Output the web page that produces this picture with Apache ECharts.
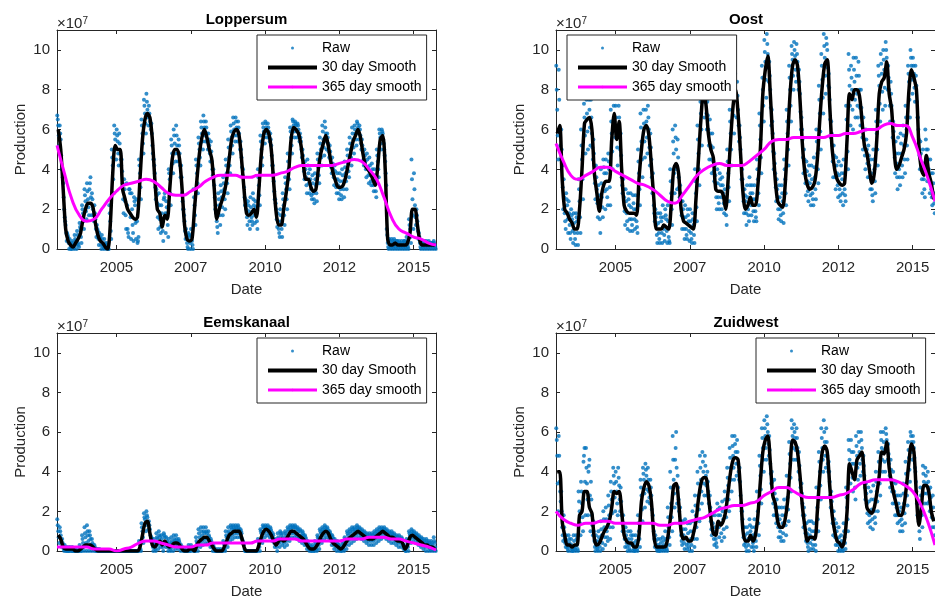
<!DOCTYPE html>
<html>
<head>
<meta charset="utf-8">
<script src="https://cdn.jsdelivr.net/npm/echarts@6/dist/echarts.min.js"></script>
<style>
  html, body { margin: 0; padding: 0; background: #fff; }
  #main { width: 935px; height: 603px; }
</style>
</head>
<body>
<div id="main"></div>
<script>
// all production values in units of 1e6, one value per month starting Jan 2003
// (raw A..E = five readings of the daily cloud per month), 365-day smooth one value per quarter

const loppersumSmooth30 = [
  60,50,30,10,4,2,1,3,5,8,15,20,
  23,23,21,13,7,4,3,1,0,12,38,52,
  50,50,30,25,20,18,16,15,16,35,55,65,
  68,66,55,35,20,18,11,17,15,30,45,50,
  50,45,30,12,5,4,5,20,35,48,56,60,
  56,50,45,30,15,20,24,28,35,45,55,59,
  60,57,45,30,18,17,18,20,16,30,48,58,
  60,58,50,33,18,12,12,20,28,38,55,61,
  60,58,52,42,35,35,31,29,30,40,48,53,
  57,52,44,38,34,31,31,32,36,42,48,54,
  57,60,56,48,42,40,38,35,32,42,55,57,
  40,5,2,2,3,2,2,2,2,3,8,20,
  20,12,4,2,2,2,2,2,2
];
const loppersumRawA = [
  67,62,40,16,8,5,4,7,9,13,22,30,
  33,30,28,22,12,8,7,5,3,22,50,62,
  60,58,45,35,33,30,28,26,25,45,65,75,
  78,72,63,45,30,28,22,25,24,40,55,60,
  62,55,42,20,10,8,10,30,45,56,64,67,
  64,58,54,40,22,28,32,36,45,55,62,66,
  66,64,54,40,25,24,26,28,24,40,57,63,
  64,63,58,42,25,18,20,28,36,48,61,65,
  64,63,58,50,44,45,40,37,38,48,56,62,
  64,58,52,46,42,38,38,40,44,50,56,61,
  62,64,62,55,50,48,46,43,40,50,60,60,
  50,10,5,5,5,4,4,4,4,6,15,45,
  38,20,8,4,4,4,4,3,4
];
const loppersumRawB = [
  52,40,20,4,0,0,0,0,1,3,10,15,
  17,17,14,6,2,0,0,0,0,5,28,45,
  42,42,18,10,6,5,4,5,6,25,48,58,
  62,60,45,25,10,8,4,8,6,22,38,44,
  44,36,20,5,0,0,0,12,28,42,50,54,
  50,44,37,20,8,12,17,20,28,38,48,54,
  54,50,37,22,12,10,12,13,10,22,42,53,
  56,54,42,25,11,6,6,12,20,30,48,56,
  56,54,46,35,28,28,25,23,24,33,42,47,
  50,46,38,32,28,25,25,26,30,36,42,48,
  52,55,50,42,36,33,32,29,26,36,50,53,
  32,0,0,0,0,0,0,0,0,0,3,10,
  12,5,0,0,0,0,0,0,0
];
const loppersumRawC = [
  62,55,33,12,6,1,2,4,3,10,18,24,
  25,36,20,15,9,5,2,2,1,14,42,55,
  54,48,33,24,10,28,12,22,3,38,58,68,
  70,64,52,38,23,15,14,28,18,35,48,53,
  52,48,28,14,3,6,4,22,38,50,58,61,
  58,52,44,32,14,22,26,30,38,46,56,60,
  61,58,46,31,20,19,16,22,18,32,50,59,
  61,59,52,34,20,10,14,22,30,40,56,62,
  62,60,54,43,36,38,30,28,32,41,50,55,
  58,53,45,40,35,32,30,34,38,43,50,55,
  58,61,57,49,44,41,37,36,33,44,56,58,
  44,3,2,3,2,3,2,2,3,2,10,25,
  22,14,3,2,3,2,2,3,2
];
const loppersumRawD = [
  65,58,36,14,7,3,3,5,7,11,20,27,
  29,33,25,18,10,6,5,3,2,18,46,58,
  57,53,39,30,22,30,20,24,14,42,62,72,
  74,68,58,42,27,22,18,26,21,38,52,57,
  57,52,36,17,7,7,7,26,42,53,61,64,
  61,55,49,36,18,25,29,33,42,51,59,63,
  64,61,50,36,23,22,21,25,21,36,54,61,
  63,61,55,38,23,14,17,25,33,44,59,64,
  63,62,56,47,40,42,35,33,35,45,53,59,
  61,56,49,43,39,35,34,37,41,47,53,58,
  60,63,60,52,47,45,42,40,37,47,58,59,
  47,7,4,4,4,4,3,3,4,4,12,35,
  30,17,6,3,4,3,3,3,3
];
const loppersumRawE = [
  57,47,26,8,3,0,1,2,2,6,14,19,
  21,26,17,10,5,2,1,1,0,9,35,50,
  48,45,25,17,8,16,8,13,4,31,53,63,
  66,62,48,31,16,11,9,18,12,28,43,48,
  48,42,24,9,1,3,2,17,33,46,54,57,
  54,48,40,26,11,17,21,25,33,42,52,57,
  57,54,41,26,16,14,14,17,14,27,46,56,
  58,56,47,29,15,8,10,17,25,35,52,59,
  59,57,50,39,32,33,27,25,28,37,46,51,
  54,49,41,36,31,28,27,30,34,39,46,51,
  55,58,53,45,40,37,34,32,29,40,53,55,
  38,1,1,1,1,1,1,1,1,1,6,17,
  16,9,1,1,1,1,1,1,1
];
const loppersumSmooth365 = [
  52,38,25,17, 14,15,20,25, 29,32,33,34, 35,34,31,28,
  27,27,29,31, 34,36,37,37, 37,36,36,37, 37,37,38,39,
  41,42,42,42, 42,42,43,44, 45,44,40,35, 26,16,10,8,
  6,5,3,2
];

const oostSmooth30 = [
  58,62,35,20,18,15,13,10,10,20,40,63,
  65,66,60,38,28,19,28,33,34,34,55,68,
  55,64,40,22,19,18,18,18,17,35,50,60,
  62,57,42,25,10,10,10,12,11,10,22,40,
  43,38,20,14,13,12,11,10,25,45,65,78,
  73,58,50,46,30,29,29,27,20,35,55,72,
  80,68,48,28,20,22,26,22,22,32,50,78,
  90,97,78,55,35,24,22,21,32,55,78,92,
  95,92,75,52,38,32,30,31,34,45,65,82,
  93,95,72,50,40,35,33,32,33,55,78,75,
  80,80,77,65,52,48,40,33,38,55,78,84,
  86,94,78,70,50,40,42,46,50,58,80,90,
  86,80,52,40,37,47,38,33,25
];
const oostRawA = [
  92,90,60,35,28,24,20,18,18,35,60,80,
  82,80,75,55,42,32,40,45,45,48,70,80,
  72,78,58,35,30,28,28,27,27,50,68,76,
  76,72,58,38,20,18,18,22,20,22,40,60,
  62,55,32,24,22,20,20,18,40,62,80,90,
  88,74,65,58,42,40,38,36,30,50,70,88,
  92,84,62,40,30,32,36,32,32,45,68,92,
  105,108,94,70,48,35,32,32,45,70,92,102,
  104,103,90,66,50,44,42,42,46,60,82,98,
  108,106,88,64,52,46,44,42,45,72,98,92,
  96,96,94,80,66,60,52,45,50,70,92,98,
  100,104,92,84,64,54,56,58,62,72,92,100,
  96,92,66,54,50,60,50,45,38
];
const oostRawB = [
  45,45,20,10,8,5,3,2,2,8,25,48,
  50,52,45,25,16,8,16,20,22,22,40,56,
  42,50,28,12,10,9,9,10,8,22,36,46,
  48,42,28,14,3,3,3,4,3,3,12,28,
  30,26,10,5,5,4,3,3,14,32,52,66,
  60,45,38,34,20,20,20,18,12,24,42,58,
  66,54,35,18,12,14,17,14,14,22,38,64,
  76,84,62,40,24,15,14,13,22,42,64,80,
  84,80,60,38,27,24,22,22,25,33,50,68,
  78,82,56,36,30,26,24,22,24,40,62,60,
  66,66,62,50,40,36,30,24,28,42,64,70,
  72,80,64,56,38,30,32,36,38,45,66,78,
  74,66,40,28,26,34,28,22,18
];
const oostRawC = [
  70,60,42,18,22,12,15,8,14,24,45,66,
  68,70,58,42,30,22,26,38,30,40,58,64,
  60,66,36,26,18,22,15,20,14,38,54,63,
  64,60,45,22,12,8,14,10,15,6,28,48,
  50,36,24,16,10,14,8,12,28,48,68,82,
  76,60,52,44,33,26,32,28,22,38,58,76,
  84,70,50,30,24,20,28,25,19,35,55,80,
  94,98,80,58,38,26,20,24,35,58,80,95,
  97,94,78,55,40,34,33,28,36,48,68,85,
  96,100,75,52,42,38,30,35,30,58,82,80,
  84,78,80,62,55,50,42,30,40,58,82,88,
  90,96,80,72,54,43,40,48,52,60,84,92,
  88,82,55,42,35,50,40,30,28
];
const oostRawD = [
  80,75,50,26,25,18,17,13,16,30,52,73,
  75,75,66,48,36,27,33,41,38,44,64,72,
  66,72,47,30,24,25,21,23,20,44,61,70,
  70,66,51,30,16,13,16,16,17,14,34,54,
  56,46,28,20,16,17,14,15,34,55,74,86,
  82,67,58,51,37,33,35,32,26,44,64,82,
  88,77,56,35,27,26,32,28,25,40,62,86,
  99,103,87,64,43,30,26,28,40,64,86,98,
  100,98,84,60,45,39,37,35,41,54,75,92,
  102,103,81,58,47,42,37,38,38,65,90,86,
  90,87,87,71,60,55,47,38,45,64,87,93,
  95,100,86,78,59,48,48,53,57,66,88,96,
  92,87,60,48,43,55,45,38,33
];
const oostRawE = [
  57,52,31,14,15,8,9,5,8,16,35,57,
  59,61,51,33,23,15,21,29,26,31,49,60,
  51,58,32,19,14,15,12,15,11,30,45,54,
  56,51,36,18,7,5,8,7,9,4,20,38,
  40,31,17,10,7,9,5,7,21,40,60,74,
  68,52,45,39,26,23,26,23,17,31,50,67,
  75,62,42,24,18,17,22,19,16,28,46,72,
  85,91,71,49,31,20,17,18,28,50,72,87,
  90,87,69,46,33,29,27,25,30,40,59,76,
  87,91,65,44,36,32,27,28,27,49,72,70,
  75,72,71,56,47,43,36,27,34,50,73,79,
  81,88,72,64,46,36,36,42,45,52,75,85,
  81,74,47,35,30,42,34,26,23
];
const oostSmooth365 = [
  53,44,37,35, 37,39,41,41, 39,37,35,33, 32,30,27,24,
  23,27,32,37, 40,42,43,42, 42,42,44,47, 50,54,55,55,
  56,56,56,56, 56,57,57,58, 58,59,60,60, 62,63,62,62,
  56,46,36,24
];

const eemskanaalSmooth30 = [
  8,6,2,1,1,1,1,0,0,1,2,3,
  3,3,2,1,0,0,0,0,0,0,0,0,
  0,0,0,0,0,0,0,0,0,2,8,14,
  15,9,3,2,4,5,3,5,3,2,3,4,
  4,3,1,0,0,1,1,0,3,5,6,7,
  7,5,3,1,0,0,0,2,5,8,9,10,
  10,10,7,2,0,0,0,0,0,3,7,10,
  11,10,8,5,3,5,6,5,6,8,10,10,
  9,8,7,6,4,2,1,1,2,4,7,9,
  10,9,6,4,3,2,1,2,4,6,7,8,
  9,10,9,8,7,6,6,6,7,8,9,10,
  9,8,7,7,6,5,5,4,1,3,7,8,
  7,6,5,4,3,3,2,2,1
];
const eemskanaalRawA = [
  16,12,6,3,2,2,2,1,1,3,8,12,
  13,10,6,3,1,1,0,0,0,0,0,0,
  0,0,0,0,0,0,0,0,0,5,14,19,
  20,15,7,6,9,10,8,9,7,6,7,8,
  8,6,3,1,1,3,3,1,7,11,12,12,
  12,10,6,3,1,1,1,5,10,12,13,13,
  13,13,11,5,0,0,0,0,0,6,11,13,
  13,13,12,9,6,9,10,9,10,12,13,13,
  13,12,11,10,8,5,3,3,5,8,11,12,
  13,12,10,8,6,5,3,5,7,10,11,12,
  12,13,12,11,10,9,9,9,10,11,12,12,
  12,11,10,10,9,8,8,7,3,6,10,11,
  10,9,8,7,6,6,5,5,7
];
const eemskanaalRawB = [
  4,2,0,0,0,0,0,0,0,0,0,0,
  0,0,0,0,0,0,0,0,0,0,0,0,
  0,0,0,0,0,0,0,0,0,0,4,10,
  11,5,0,0,1,2,0,2,0,0,0,1,
  1,0,0,0,0,0,0,0,0,2,3,4,
  4,2,0,0,0,0,0,0,2,5,6,7,
  7,7,4,0,0,0,0,0,0,0,4,7,
  8,7,5,2,0,2,3,2,3,5,7,7,
  6,5,4,3,1,0,0,0,0,1,4,6,
  7,6,3,1,0,0,0,0,1,3,4,5,
  6,7,6,5,4,3,3,3,4,5,6,7,
  6,5,4,4,3,2,2,1,0,0,4,5,
  4,3,2,1,0,0,0,0,0
];
const eemskanaalRawC = [
  10,8,3,1,0,1,0,0,0,1,4,7,
  8,6,3,1,0,0,0,0,0,0,0,0,
  0,0,0,0,0,0,0,0,0,3,10,16,
  17,11,4,3,6,7,4,7,4,3,4,5,
  5,4,2,0,0,1,2,0,4,7,8,9,
  9,7,4,1,0,0,0,3,7,9,11,11,
  11,11,9,3,0,0,0,0,0,4,9,12,
  12,11,10,6,4,6,8,6,8,10,11,12,
  11,10,8,8,6,3,1,1,3,6,9,10,
  11,10,8,6,4,3,1,3,5,8,9,10,
  10,11,10,9,8,7,7,8,8,9,10,11,
  10,9,8,8,7,6,6,5,1,4,8,9,
  8,7,6,5,4,4,3,3,4
];
const eemskanaalRawD = [
  13,10,4,2,1,1,1,1,0,2,6,9,
  10,8,4,2,1,0,0,0,0,0,0,0,
  0,0,0,0,0,0,0,0,0,4,12,17,
  18,13,6,4,7,8,6,8,5,4,5,6,
  6,5,2,1,0,2,2,1,5,9,10,10,
  10,8,5,2,0,0,0,4,8,10,12,12,
  12,12,10,4,0,0,0,0,0,5,10,12,
  12,12,11,8,5,7,9,7,9,11,12,12,
  12,11,10,9,7,4,2,2,4,7,10,11,
  12,11,9,7,5,4,2,4,6,9,10,11,
  11,12,11,10,9,8,8,8,9,10,11,11,
  11,10,9,9,8,7,7,6,2,5,9,10,
  9,8,7,6,5,5,4,4,5
];
const eemskanaalRawE = [
  7,5,1,0,0,0,0,0,0,0,2,4,
  5,3,1,0,0,0,0,0,0,0,0,0,
  0,0,0,0,0,0,0,0,0,1,7,13,
  14,8,2,1,3,4,2,4,2,1,2,3,
  3,2,1,0,0,0,1,0,2,4,5,6,
  6,4,2,0,0,0,0,1,4,7,8,9,
  9,9,6,1,0,0,0,0,0,2,6,9,
  10,9,7,4,2,4,5,4,5,7,9,9,
  8,7,6,5,3,1,0,0,1,3,6,8,
  9,8,5,3,2,1,0,1,3,5,6,7,
  8,9,8,7,6,5,5,5,6,7,8,9,
  8,7,6,6,5,4,4,3,0,2,6,7,
  6,5,4,3,2,2,1,1,2
];
const eemskanaalSmooth365 = [
  2,2,2,2, 2,1,1,1, 0,1,2,4, 5,5,4,3,
  2,2,2,3, 3,4,4,4, 4,4,4,5, 5,5,6,6,
  6,5,5,5, 5,5,5,6, 6,6,7,7, 7,6,6,5,
  4,3,2,0.5
];

const zuidwestSmooth30 = [
  40,40,15,8,3,3,2,3,3,18,20,30,
  30,22,19,6,3,4,7,10,12,15,22,30,
  29,30,20,8,5,4,4,2,2,8,25,32,
  35,33,25,8,2,2,2,2,3,10,20,33,
  34,25,10,6,7,5,5,9,15,26,34,37,
  37,28,17,9,8,15,13,15,20,30,40,46,
  47,46,30,10,5,5,8,5,8,18,35,50,
  56,58,45,28,24,15,12,12,16,25,42,56,
  55,50,38,22,12,5,7,7,6,20,38,50,
  53,50,33,18,10,5,4,2,6,20,44,40,
  36,46,48,50,36,22,20,19,22,29,38,50,
  49,55,42,34,28,23,18,18,23,33,45,54,
  50,28,13,22,33,33,30,20,15
];
const zuidwestRawA = [
  62,58,30,18,8,8,6,8,8,30,35,45,
  52,40,35,15,8,10,15,20,22,28,35,42,
  40,42,32,18,12,10,10,8,8,18,36,42,
  44,42,36,18,8,6,6,7,10,22,40,58,
  46,38,22,15,16,14,14,20,28,40,48,50,
  48,40,28,18,18,24,22,25,30,42,52,58,
  58,56,42,20,12,12,16,12,16,30,48,62,
  66,68,58,40,36,26,22,22,26,38,55,66,
  64,62,50,34,22,14,15,15,14,32,50,62,
  66,62,45,30,20,14,12,8,14,32,56,56,
  50,58,60,60,48,34,32,30,33,40,50,60,
  60,62,54,46,40,34,28,28,34,45,55,60,
  58,40,24,32,43,42,40,32,28
];
const zuidwestRawB = [
  20,25,5,2,0,0,0,0,0,8,10,18,
  18,10,8,0,0,0,1,3,5,6,12,20,
  18,20,10,2,0,0,0,0,0,2,15,22,
  25,24,14,2,0,0,0,0,0,3,10,22,
  24,14,3,1,1,0,0,2,6,15,24,28,
  28,18,8,3,2,7,5,7,12,20,30,36,
  38,36,20,3,0,0,2,0,2,8,24,40,
  46,48,34,18,14,7,5,5,8,15,30,46,
  46,40,28,12,5,0,1,1,0,10,26,40,
  42,40,22,8,3,0,0,0,1,10,34,30,
  26,36,38,40,26,14,12,11,14,20,28,40,
  40,46,32,24,18,14,10,10,14,23,35,46,
  42,18,6,12,24,24,20,12,8
];
const zuidwestRawC = [
  48,35,12,6,2,4,1,2,3,20,24,52,
  34,46,18,5,2,5,8,12,10,18,26,34,
  30,33,18,10,4,3,6,1,3,10,28,36,
  38,30,28,10,3,1,2,3,2,12,24,36,
  60,26,8,8,6,4,6,10,18,28,36,40,
  38,30,15,10,6,18,14,16,22,33,42,48,
  50,44,28,12,4,6,10,4,9,20,38,52,
  58,60,44,30,22,18,10,14,18,27,44,58,
  57,52,36,24,14,4,8,6,7,22,40,52,
  55,48,35,20,12,6,3,3,7,22,46,44,
  38,48,50,52,38,24,18,21,20,30,40,52,
  51,56,44,36,30,22,20,16,24,34,47,55,
  52,30,15,24,35,34,31,22,16
];
const zuidwestRawD = [
  56,48,20,12,5,6,3,5,6,25,30,48,
  42,43,26,10,5,7,11,16,16,23,30,38,
  35,37,25,14,8,6,8,4,5,14,32,39,
  41,36,32,14,5,3,4,5,6,17,32,46,
  52,32,15,11,11,9,10,15,23,34,42,45,
  43,35,22,14,12,21,18,20,26,37,47,53,
  54,50,35,16,8,9,13,8,12,25,43,57,
  62,64,51,35,29,22,16,18,22,32,49,62,
  60,57,43,29,18,9,11,10,10,27,45,57,
  60,55,40,25,16,10,7,5,10,27,51,50,
  44,53,55,56,43,29,25,26,26,35,45,56,
  55,59,49,41,35,28,24,22,29,39,51,58,
  55,35,20,28,39,38,35,27,22
];
const zuidwestRawE = [
  34,30,8,4,1,2,0,1,1,14,17,35,
  26,28,13,2,1,2,4,7,7,12,19,27,
  24,26,14,6,2,1,3,0,1,6,21,29,
  31,27,21,6,1,0,1,1,1,7,17,29,
  42,20,5,4,3,2,3,6,12,21,30,34,
  33,24,11,6,4,12,9,11,17,26,36,42,
  44,40,24,7,2,3,6,2,5,14,31,46,
  52,54,39,24,18,12,7,9,13,21,37,52,
  51,46,32,18,9,2,4,3,3,16,33,46,
  48,44,28,14,7,3,1,1,4,16,40,37,
  32,42,44,46,32,19,15,16,17,25,34,46,
  45,51,38,30,24,18,15,13,19,28,41,50,
  47,24,10,18,29,29,25,17,12
];
const zuidwestSmooth365 = [
  20,16,14,13, 14,14,15,15, 14,14,14,14, 14,14,13,13,
  14,14,15,16, 17,19,21,22, 23,23,24,25, 28,30,32,32,
  30,28,27,27, 27,27,28,29, 31,34,35,36, 36,36,35,33,
  30,24,15,3
];

const panelNames = ['Loppersum', 'Oost', 'Eemskanaal', 'Zuidwest'];
const seriesNames = ['Raw', '30 day Smooth', '365 day smooth'];
const xTickYears = [2005, 2007.5, 2010, 2012.5, 2015];
const yTickValues = [0, 2, 4, 6, 8, 10]; // x 1e7

const FONT = '"Liberation Sans", Arial, Helvetica, sans-serif';
const AX = '#262626';
const START = 2003;

const panels = [
  { raw: [loppersumRawA, loppersumRawD, loppersumRawC, loppersumRawE, loppersumRawB],
    s30: loppersumSmooth30, s365: loppersumSmooth365,
    left: 57, top: 30, width: 379, height: 219, legendLeft: 257, legendTop: 35 },
  { raw: [oostRawA, oostRawD, oostRawC, oostRawE, oostRawB],
    s30: oostSmooth30, s365: oostSmooth365,
    left: 556, top: 30, width: 380, height: 219, legendLeft: 567, legendTop: 35 },
  { raw: [eemskanaalRawA, eemskanaalRawD, eemskanaalRawC, eemskanaalRawE, eemskanaalRawB],
    s30: eemskanaalSmooth30, s365: eemskanaalSmooth365,
    left: 57, top: 333, width: 379, height: 218, legendLeft: 257, legendTop: 338 },
  { raw: [zuidwestRawA, zuidwestRawD, zuidwestRawC, zuidwestRawE, zuidwestRawB],
    s30: zuidwestSmooth30, s365: zuidwestSmooth365,
    left: 556, top: 333, width: 380, height: 218, legendLeft: 756, legendTop: 338 }
];

// each raw reading sits at its own day within the month
function rawPoints(arrs) {
  const offs = [0.1, 0.3, 0.5, 0.7, 0.9];
  const pts = [];
  arrs.forEach((arr, k) => {
    arr.forEach((v, i) => pts.push([START + (i + offs[k]) / 12, v * 1e6]));
  });
  return pts;
}

const chart = echarts.init(document.getElementById('main'));

const grids = [], xAxes = [], yAxes = [], series = [], titles = [], legends = [];

panels.forEach((p, i) => {
  grids.push({ left: p.left, top: p.top, width: p.width, height: p.height, show: false });

  const xBase = {
    gridIndex: i, type: 'value', min: 2003, max: 2015.75,
    splitLine: { show: false },
    axisLine: { show: true, onZero: false, lineStyle: { color: AX, width: 1 } },
    axisTick: { inside: true, length: 4, customValues: xTickYears, lineStyle: { color: AX } }
  };
  xAxes.push(Object.assign({}, xBase, {
    position: 'bottom',
    name: 'Date', nameLocation: 'middle', nameGap: 33,
    nameTextStyle: { color: AX, fontSize: 15, fontFamily: FONT },
    axisLabel: { customValues: xTickYears, formatter: v => String(Math.floor(v)),
      color: AX, fontSize: 15, fontFamily: FONT, margin: 11 }
  }));
  xAxes.push(Object.assign({}, xBase, { position: 'top', axisLabel: { show: false } }));

  const yBase = {
    gridIndex: i, type: 'value', min: 0, max: 11e7,
    splitLine: { show: false },
    axisLine: { show: true, onZero: false, lineStyle: { color: AX, width: 1 } },
    axisTick: { inside: true, length: 4, customValues: yTickValues.map(v => v * 1e7), lineStyle: { color: AX } }
  };
  yAxes.push(Object.assign({}, yBase, {
    position: 'left',
    name: 'Production', nameLocation: 'middle', nameGap: 29,
    nameTextStyle: { color: AX, fontSize: 15, fontFamily: FONT },
    axisLabel: { customValues: yTickValues.map(v => v * 1e7), formatter: v => String(Math.round(v / 1e7)),
      color: AX, fontSize: 15, fontFamily: FONT, margin: 7 }
  }));
  yAxes.push(Object.assign({}, yBase, { position: 'right', axisLabel: { show: false } }));

  series.push({
    type: 'scatter', name: seriesNames[0], xAxisIndex: 2 * i, yAxisIndex: 2 * i,
    data: rawPoints(p.raw), symbol: 'circle', symbolSize: 4,
    itemStyle: { color: '#0072BD' }, silent: true
  });
  series.push({
    type: 'line', name: seriesNames[1], xAxisIndex: 2 * i, yAxisIndex: 2 * i,
    data: p.s30.map((v, k) => [START + (k + 0.5) / 12, v * 1e6]),
    symbol: 'none', smooth: 0.3, lineStyle: { color: '#000', width: 3.5 },
    itemStyle: { color: '#000' }, silent: true
  });
  series.push({
    type: 'line', name: seriesNames[2], xAxisIndex: 2 * i, yAxisIndex: 2 * i,
    data: p.s365.map((v, k) => [START + k / 4, v * 1e6]),
    symbol: 'none', smooth: true, lineStyle: { color: '#FF00FF', width: 3 },
    itemStyle: { color: '#FF00FF' }, silent: true
  });

  titles.push({
    text: panelNames[i], left: p.left + p.width / 2, top: p.top - 18, textAlign: 'center', padding: 0,
    textStyle: { fontSize: 15, fontWeight: 'bold', color: '#000', fontFamily: FONT }
  });
  titles.push({
    text: '{a|×10}{b|7}', left: p.left, top: p.top - 14, padding: 0,
    textStyle: { fontWeight: 'normal', rich: {
      a: { fontSize: 15, color: AX, fontFamily: FONT, fontWeight: 'normal' },
      b: { fontSize: 10, color: AX, fontFamily: FONT, fontWeight: 'normal', verticalAlign: 'top' }
    } }
  });

  legends.push({
    left: p.legendLeft, top: p.legendTop, orient: 'vertical',
    padding: [5, 5, 5, 9], itemWidth: 49, itemHeight: 3, itemGap: 3.5,
    borderColor: AX, borderWidth: 1, borderRadius: 0, backgroundColor: '#fff',
    selectedMode: false,
    data: [
      { name: seriesNames[0] },
      { name: seriesNames[1], lineStyle: { width: 4, color: '#000' } },
      { name: seriesNames[2], lineStyle: { width: 3, color: '#FF00FF' } }
    ],
    textStyle: { fontSize: 14, color: '#000', fontFamily: FONT, lineHeight: 16 }
  });
});

chart.setOption({
  animation: false,
  backgroundColor: '#fff',
  title: titles,
  legend: legends,
  grid: grids,
  xAxis: xAxes,
  yAxis: yAxes,
  series: series
});
</script>
</body>
</html>
